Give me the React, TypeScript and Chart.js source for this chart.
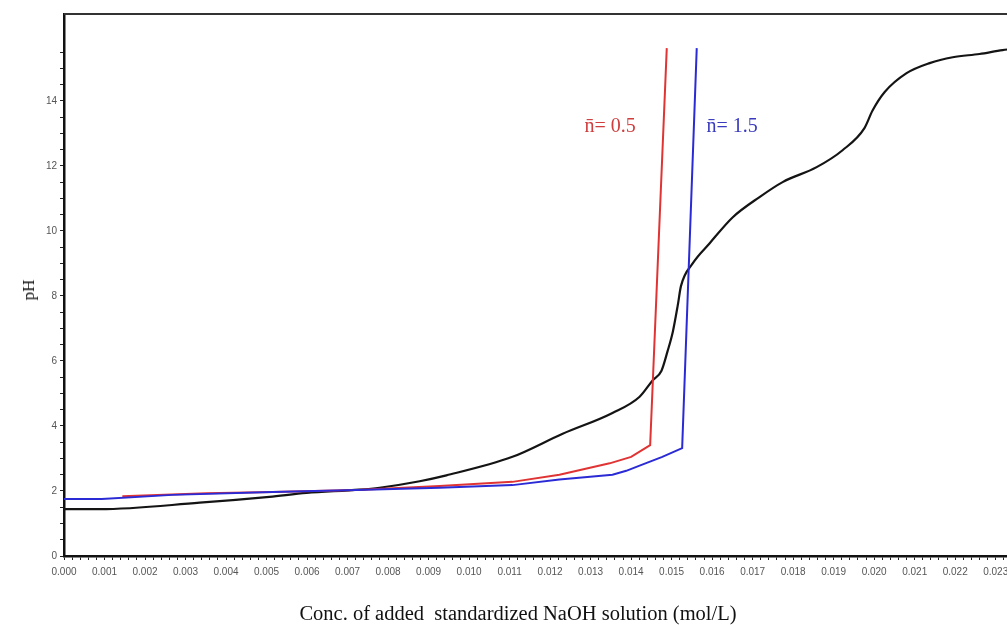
import React, { useEffect, useRef } from "react";
import { Chart, registerables } from "chart.js";

Chart.register(...registerables);

// ---- Data ----
const blackConc = [0, 0.00088, 0.00335, 0.00507, 0.00599, 0.0073, 0.00779, 0.00878, 0.00944, 0.01107, 0.01231, 0.01354, 0.01421, 0.01453, 0.01475, 0.0149, 0.01503, 0.01515, 0.01523, 0.01552, 0.01594, 0.01651, 0.01717, 0.01774, 0.01858, 0.01922, 0.01976, 0.01996, 0.02026, 0.0208, 0.02137, 0.02194, 0.0226, 0.02317, 0.0236];
const blackPH = [1.44, 1.44, 1.64, 1.82, 1.94, 2.04, 2.1, 2.3, 2.48, 3.05, 3.76, 4.4, 4.9, 5.4, 5.7, 6.3, 6.9, 7.7, 8.3, 9.0, 9.62, 10.42, 11.04, 11.5, 11.96, 12.48, 13.16, 13.7, 14.27, 14.85, 15.16, 15.34, 15.44, 15.56, 15.62];

const redConc = [0.00144, 0.00352, 0.00515, 0.00722, 0.00927, 0.01107, 0.01223, 0.01347, 0.014, 0.01447, 0.01488];
const redPH = [1.84, 1.93, 1.97, 2.03, 2.15, 2.28, 2.5, 2.85, 3.05, 3.41, 15.62];

const blueConc = [0, 0.00093, 0.00268, 0.00515, 0.00722, 0.00927, 0.01107, 0.01223, 0.01354, 0.01388, 0.01421, 0.01477, 0.01526, 0.01562];
const bluePH = [1.75, 1.75, 1.88, 1.97, 2.03, 2.1, 2.18, 2.35, 2.5, 2.62, 2.78, 3.05, 3.32, 15.62];

const xMajorStep = 0.001;
const xMinorStep = 0.0002;
const xMax = 0.0236;
const yMajorStep = 2;
const yMinorStep = 0.5;
const yMax = 16.67;
const yAxisTop = 15.6;

const annotationTexts = ["n\u0304= 0.5", "n\u0304= 1.5"];
const annotationConc = [0.01285, 0.01586];
const annotationPH = [13.19, 13.19];
const annotationColors = ["#cf3d3d", "#3a3abf"];

const xTitle = "Conc. of added  standardized NaOH solution (mol/L)";
const yTitle = "pH";

const toPoints = (xs: number[], ys: number[]) => xs.map((x, i) => ({ x, y: ys[i] }));

const labelPlugin = {
  id: "nLabels",
  afterDatasetsDraw(chart: any) {
    const { ctx, scales } = chart;
    const x = scales.x;
    const y = scales.y;
    ctx.save();
    ctx.font = '20px "Liberation Serif", "Times New Roman", serif';
    ctx.textBaseline = "middle";
    ctx.textAlign = "left";
    annotationTexts.forEach((t, i) => {
      ctx.fillStyle = annotationColors[i];
      ctx.fillText(t, x.getPixelForValue(annotationConc[i]), y.getPixelForValue(annotationPH[i]));
    });
    ctx.restore();
  },
};

const framePlugin = {
  id: "frameTop",
  afterDraw(chart: any) {
    const { ctx, chartArea } = chart;
    ctx.save();
    ctx.strokeStyle = "#333";
    ctx.lineWidth = 2;
    ctx.beginPath();
    ctx.moveTo(chartArea.left, chartArea.top);
    ctx.lineTo(chartArea.right, chartArea.top);
    ctx.stroke();
    ctx.restore();
  },
};

const isMultiple = (v: number, step: number) => Math.abs(v / step - Math.round(v / step)) < 1e-6;

export default function App() {
  const canvasRef = useRef<HTMLCanvasElement | null>(null);

  useEffect(() => {
    const canvas = canvasRef.current;
    if (!canvas) return;
    const chart = new Chart(canvas, {
      type: "line",
      data: {
        datasets: [
          {
            label: "n = 1.5",
            data: toPoints(blueConc, bluePH),
            borderColor: "#2b2bd6",
            borderWidth: 2,
            pointRadius: 0,
            tension: 0,
          },
          {
            label: "n = 0.5",
            data: toPoints(redConc, redPH),
            borderColor: "#e03434",
            borderWidth: 2,
            pointRadius: 0,
            tension: 0,
          },
          {
            label: "pH",
            data: toPoints(blackConc, blackPH),
            borderColor: "#141414",
            borderWidth: 2.2,
            pointRadius: 0,
            cubicInterpolationMode: "monotone",
          },
        ],
      },
      options: {
        responsive: false,
        animation: false,
        events: [],
        layout: { padding: { top: 14, right: 20, left: 0, bottom: 0 } },
        plugins: { legend: { display: false }, tooltip: { enabled: false } },
        scales: {
          x: {
            type: "linear",
            min: 0,
            max: xMax,
            border: { color: "#111", width: 2.5 },
            grid: { drawOnChartArea: false, drawTicks: true, tickLength: 4, color: "#222" },
            ticks: {
              stepSize: xMinorStep,
              autoSkip: false,
              maxRotation: 0,
              minRotation: 0,
              padding: 6,
              color: "#555",
              font: { family: '"Liberation Sans", Arial, sans-serif', size: 10 },
              callback: (v: any) => (isMultiple(Number(v), xMajorStep) ? Number(v).toFixed(3) : ""),
            },
            afterFit: (s: any) => {
              s.height = 69;
            },
          },
          y: {
            type: "linear",
            min: 0,
            max: yMax,
            border: { color: "#111", width: 2.5 },
            grid: { drawOnChartArea: false, drawTicks: true, tickLength: 4, color: "#222" },
            ticks: {
              stepSize: yMinorStep,
              autoSkip: false,
              padding: 3,
              color: "#555",
              font: { family: '"Liberation Sans", Arial, sans-serif', size: 10 },
              callback: (v: any) => (isMultiple(Number(v), yMajorStep) ? String(Math.round(Number(v))) : ""),
            },
            afterBuildTicks: (s: any) => {
              s.ticks = s.ticks.filter((t: any) => t.value <= yAxisTop);
            },
            afterFit: (s: any) => {
              s.width = 64;
            },
          },
        },
      },
      plugins: [labelPlugin, framePlugin],
    } as any);
    return () => chart.destroy();
  }, []);

  return (
    <div
      style={{
        position: "fixed",
        left: 0,
        top: 0,
        width: 1007,
        height: 625,
        overflow: "hidden",
        background: "#fff",
      }}
    >
      <canvas ref={canvasRef} width={1040} height={625} style={{ width: 1040, height: 625, display: "block" }} />
      <div
        style={{
          position: "absolute",
          left: 29,
          top: 290,
          transform: "translate(-50%, -50%) rotate(-90deg)",
          fontFamily: '"Liberation Serif", "Times New Roman", serif',
          fontSize: 17,
          color: "#111",
          whiteSpace: "pre",
        }}
      >
        {yTitle}
      </div>
      <div
        style={{
          position: "absolute",
          left: 518,
          top: 613,
          transform: "translate(-50%, -50%)",
          fontFamily: '"Liberation Serif", "Times New Roman", serif',
          fontSize: 20.5,
          color: "#111",
          whiteSpace: "pre",
        }}
      >
        {xTitle}
      </div>
    </div>
  );
}
